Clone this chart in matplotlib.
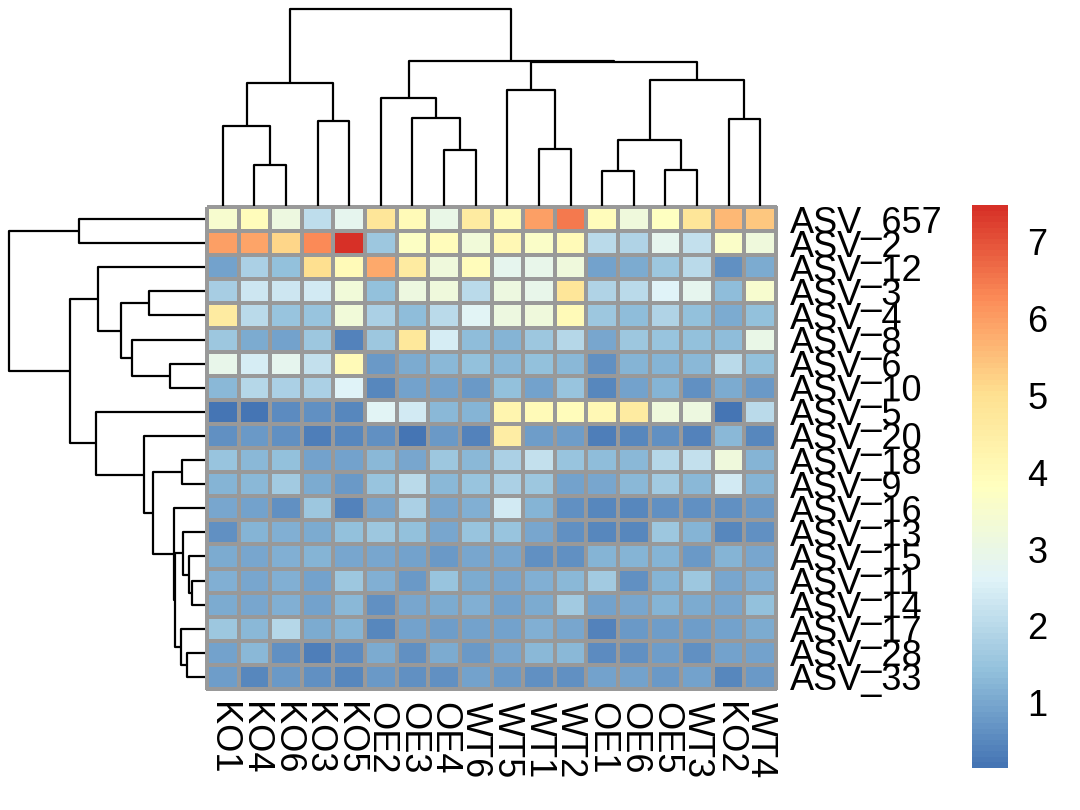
import numpy as np
import matplotlib
matplotlib.use("Agg")
import matplotlib.pyplot as plt
from matplotlib.colors import LinearSegmentedColormap

plt.rcParams['font.family'] = ['Liberation Sans', 'DejaVu Sans']

# samples (columns) and ASVs (rows), in clustered order
col_labels = ["KO1", "KO4", "KO6", "KO3", "KO5", "OE2", "OE3", "OE4", "WT6",
              "WT5", "WT1", "WT2", "OE1", "OE6", "OE5", "WT3", "KO2", "WT4"]
row_labels = ["ASV_657", "ASV_2", "ASV_12", "ASV_3", "ASV_4", "ASV_8", "ASV_6",
              "ASV_10", "ASV_5", "ASV_20", "ASV_18", "ASV_9", "ASV_16", "ASV_13",
              "ASV_15", "ASV_11", "ASV_14", "ASV_17", "ASV_28", "ASV_33"]

# values per ASV, same order as col_labels
asv_657 = [3.5, 3.9, 3.1, 2.1, 2.8, 4.8, 4.0, 3.0, 4.6, 4.0, 6.0, 6.5, 3.9, 3.2, 3.8, 4.8, 5.6, 5.4]
asv_2   = [6.0, 5.9, 5.2, 6.25, 7.48, 1.6, 3.7, 3.9, 3.3, 4.1, 3.6, 4.0, 2.0, 1.9, 2.8, 2.2, 3.6, 3.2]
asv_12  = [0.9, 1.8, 1.4, 5.0, 4.0, 5.8, 4.6, 3.2, 3.9, 2.8, 2.9, 3.2, 0.9, 1.05, 1.55, 2.0, 0.6, 1.05]
asv_3   = [1.7, 2.3, 2.3, 2.4, 3.3, 1.4, 3.1, 3.2, 2.0, 3.1, 2.9, 4.8, 1.85, 2.0, 2.6, 2.8, 1.35, 3.5]
asv_4   = [4.6, 2.05, 1.5, 1.5, 3.3, 1.8, 1.35, 2.0, 2.65, 3.1, 3.2, 4.0, 1.6, 1.35, 1.85, 1.45, 1.1, 1.45]
asv_8   = [1.6, 1.1, 0.9, 1.6, 0.4, 1.6, 4.7, 2.45, 1.35, 1.2, 1.6, 1.95, 1.0, 1.6, 1.5, 1.45, 1.35, 3.0]
asv_6   = [2.9, 2.45, 2.8, 2.2, 4.0, 0.8, 1.05, 1.25, 1.45, 1.25, 1.4, 1.3, 0.65, 1.2, 1.2, 1.3, 2.05, 1.4]
asv_10  = [1.25, 1.95, 1.8, 1.8, 2.6, 0.5, 0.9, 0.95, 0.75, 1.4, 0.9, 1.5, 0.5, 0.95, 1.2, 0.6, 1.1, 0.75]
asv_5   = [0.2, 0.2, 0.55, 0.6, 0.5, 2.65, 2.4, 1.3, 1.2, 4.2, 4.0, 3.9, 4.1, 4.6, 3.2, 3.1, 0.18, 2.0]
asv_20  = [0.65, 0.75, 0.6, 0.35, 0.5, 0.6, 0.15, 0.75, 0.4, 4.5, 0.85, 0.85, 0.35, 0.45, 0.6, 0.4, 1.3, 0.45]
asv_18  = [1.5, 1.25, 1.4, 0.9, 0.9, 1.3, 1.0, 1.6, 1.25, 1.8, 2.2, 1.5, 1.35, 1.25, 1.95, 2.2, 3.2, 1.2]
asv_9   = [1.2, 1.3, 1.65, 1.05, 0.75, 1.5, 2.0, 1.3, 1.5, 1.8, 1.6, 0.9, 1.0, 1.25, 1.65, 1.25, 2.35, 1.2]
asv_16  = [1.0, 0.9, 0.65, 1.6, 0.4, 1.0, 1.8, 1.0, 1.15, 2.35, 1.2, 0.65, 0.45, 0.45, 0.65, 0.6, 0.65, 0.75]
asv_13  = [0.6, 1.2, 1.15, 1.05, 1.45, 1.6, 1.45, 1.0, 1.5, 1.5, 1.0, 0.65, 0.45, 0.5, 1.6, 1.2, 0.45, 0.65]
asv_15  = [1.1, 1.0, 1.15, 1.2, 1.0, 1.0, 0.9, 0.8, 1.0, 1.0, 0.65, 0.65, 1.2, 1.2, 1.2, 0.8, 1.2, 1.0]
asv_11  = [1.15, 1.0, 1.15, 0.9, 1.6, 1.15, 0.8, 1.5, 1.1, 1.0, 1.15, 1.3, 1.65, 0.65, 1.2, 1.55, 1.0, 1.15]
asv_14  = [1.1, 1.0, 1.15, 0.9, 1.3, 0.65, 1.0, 1.05, 1.15, 0.9, 1.05, 1.65, 0.9, 1.0, 1.2, 1.1, 1.0, 1.45]
asv_17  = [1.6, 1.25, 1.95, 1.05, 1.2, 0.45, 0.9, 0.85, 0.95, 0.9, 1.15, 1.0, 0.4, 0.75, 0.85, 0.85, 0.95, 1.05]
asv_28  = [0.95, 1.3, 0.65, 0.3, 0.55, 1.05, 0.65, 1.05, 0.75, 1.0, 1.3, 1.25, 0.55, 0.6, 0.85, 0.65, 0.95, 0.95]
asv_33  = [0.85, 0.45, 0.75, 0.6, 0.45, 0.75, 0.65, 0.6, 0.9, 0.75, 0.65, 0.6, 0.95, 0.95, 0.75, 0.95, 0.5, 0.75]

values = np.array([asv_657, asv_2, asv_12, asv_3, asv_4, asv_8, asv_6, asv_10, asv_5,
                   asv_20, asv_18, asv_9, asv_16, asv_13, asv_15, asv_11, asv_14,
                   asv_17, asv_28, asv_33])

# cluster trees: (child a, child b, height); leaves are 0..n-1, merge k gets id n+k
col_merges = [(12, 13, 0.177), (14, 15, 0.182), (1, 2, 0.206), (7, 8, 0.282),
              (10, 11, 0.287), (18, 19, 0.333), (0, 20, 0.406), (3, 4, 0.434),
              (16, 17, 0.440), (6, 21, 0.449), (5, 27, 0.549), (9, 22, 0.587),
              (24, 25, 0.624), (23, 26, 0.641), (29, 31, 0.733), (28, 32, 0.738),
              (30, 33, 1.0)]
row_merges = [(15, 16, 0.068), (14, 20, 0.080), (18, 19, 0.090), (13, 21, 0.114),
              (10, 11, 0.119), (17, 22, 0.124), (23, 25, 0.155), (12, 26, 0.160),
              (6, 7, 0.179), (24, 27, 0.267), (3, 4, 0.284), (9, 29, 0.311),
              (5, 28, 0.372), (30, 32, 0.429), (2, 33, 0.544), (8, 31, 0.558),
              (0, 1, 0.645), (34, 35, 0.689), (36, 37, 1.0)]

# pheatmap default palette
cmap = LinearSegmentedColormap.from_list(
    "rdylbu_rev", ["#4575B4", "#91BFDB", "#E0F3F8", "#FFFFBF", "#FEE090", "#FC8D59", "#D73027"], N=100)

W, H = 1080, 810
fig = plt.figure(figsize=(W / 100, H / 100), dpi=100)

def box(x0, y0, x1, y1):
    # pixel box -> figure fraction rect
    return [x0 / W, 1 - y1 / H, (x1 - x0) / W, (y1 - y0) / H]

def draw_tree(ax, merges, n, top):
    pos = {i: i + 0.5 for i in range(n)}
    hgt = {i: 0.0 for i in range(n)}
    for k, (a, b, h) in enumerate(merges):
        p = [pos[a], pos[a], pos[b], pos[b]]
        q = [hgt[a], h, h, hgt[b]]
        if top:
            ax.plot(p, q, color="black", lw=1.6, solid_capstyle="butt", clip_on=False)
        else:
            ax.plot(q, p, color="black", lw=1.6, solid_capstyle="butt", clip_on=False)
        pos[n + k] = (pos[a] + pos[b]) / 2
        hgt[n + k] = h

nr, nc = values.shape
hx0, hy0, hx1, hy1 = 207, 207, 776, 689

# heatmap
ax = fig.add_axes(box(hx0, hy0, hx1, hy1))
mesh = ax.pcolormesh(np.arange(nc + 1), np.arange(nr + 1), values, cmap=cmap,
                     vmin=values.min(), vmax=values.max(),
                     edgecolors="#999999", linewidth=1.6)
mesh.set_clip_on(False)
ax.set_xlim(0, nc)
ax.set_ylim(nr, 0)
for s in ax.spines.values():
    s.set_visible(False)
ax.set_xticks(np.arange(nc) + 0.5)
ax.set_xticklabels(col_labels, rotation=-90, fontsize=26)
ax.yaxis.tick_right()
ax.set_yticks(np.arange(nr) + 0.5)
ax.set_yticklabels(row_labels, fontsize=26)
ax.tick_params(length=0)
ax.tick_params(axis="x", pad=9)
ax.tick_params(axis="y", pad=10)

# column tree
axt = fig.add_axes(box(hx0, 9, hx1, hy0 - 1))
draw_tree(axt, col_merges, nc, True)
axt.set_xlim(0, nc)
axt.set_ylim(0, 1)
axt.axis("off")

# row tree
axl = fig.add_axes(box(9, hy0, hx0 - 2, hy1))
draw_tree(axl, row_merges, nr, False)
axl.set_ylim(nr, 0)
axl.set_xlim(1, 0)
axl.axis("off")

# legend
cax = fig.add_axes(box(972, 205, 1008, 768))
cb = fig.colorbar(mesh, cax=cax, ticks=[1, 2, 3, 4, 5, 6, 7])
cb.outline.set_visible(False)
cb.ax.tick_params(length=0, pad=14, labelsize=26)

fig.savefig("out.png", dpi=100)
